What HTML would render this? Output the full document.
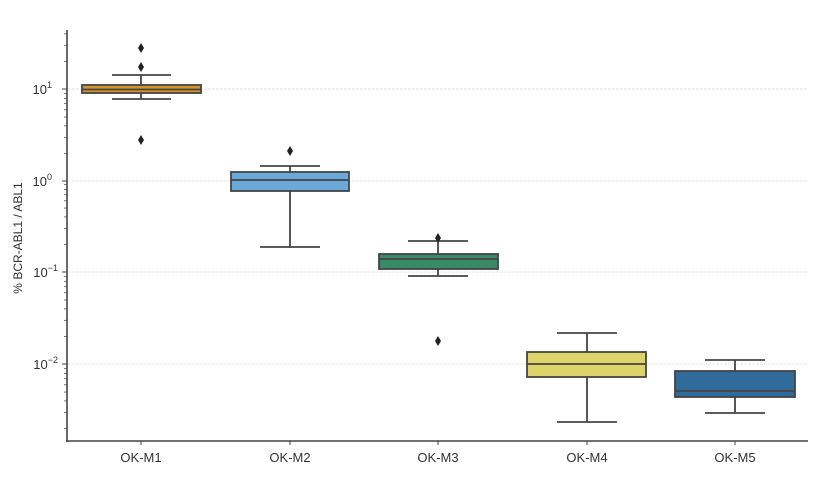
<!DOCTYPE html>
<html><head><style>body{margin:0;background:#fff}svg{display:block}</style></head>
<body>
<svg id="s" width="839" height="481" xmlns="http://www.w3.org/2000/svg" font-family="Liberation Sans, DejaVu Sans, sans-serif">
<rect width="839" height="481" fill="#fff"/>
<g stroke="#e6e6e6" stroke-width="1" stroke-dasharray="3,1">
<line x1="68" x2="808" y1="89" y2="89"/><line x1="68" x2="808" y1="181" y2="181"/>
<line x1="68" x2="808" y1="272" y2="272"/><line x1="68" x2="808" y1="364" y2="364"/>
</g>
<g id="minor" stroke="#555" stroke-width="0.8"></g>
<g stroke="#444" stroke-width="1.8" fill="none">
<!-- M1 -->
<line x1="141" x2="141" y1="75" y2="99"/><line x1="112" x2="171" y1="75" y2="75"/><line x1="112" x2="171" y1="99" y2="99"/>
<rect x="82" y="85" width="119" height="8" fill="#d4952a"/><line x1="82" x2="201" y1="89.5" y2="89.5"/>
<!-- M2 -->
<line x1="290" x2="290" y1="166" y2="247"/><line x1="260" x2="320" y1="166" y2="166"/><line x1="260" x2="320" y1="247" y2="247"/>
<rect x="231" y="172" width="118" height="19" fill="#6aa9d9"/><line x1="231" x2="349" y1="180" y2="180"/>
<!-- M3 -->
<line x1="438" x2="438" y1="241" y2="276"/><line x1="408" x2="468" y1="241" y2="241"/><line x1="408" x2="468" y1="276" y2="276"/>
<rect x="379" y="254" width="119" height="15" fill="#3a8a6a"/><line x1="379" x2="498" y1="259" y2="259"/>
<!-- M4 -->
<line x1="587" x2="587" y1="333" y2="422"/><line x1="557" x2="617" y1="333" y2="333"/><line x1="557" x2="617" y1="422" y2="422"/>
<rect x="527" y="352" width="119" height="25" fill="#ddd36a"/><line x1="527" x2="646" y1="364" y2="364"/>
<!-- M5 -->
<line x1="735" x2="735" y1="360" y2="413"/><line x1="705" x2="765" y1="360" y2="360"/><line x1="705" x2="765" y1="413" y2="413"/>
<rect x="675" y="371" width="120" height="26" fill="#2f6b9b"/><line x1="675" x2="795" y1="391" y2="391"/>
</g>
<g fill="#222">
<path d="M141 43l3 5-3 5-3-5z"/><path d="M141 62l3 5-3 5-3-5z"/><path d="M141 135l3 5-3 5-3-5z"/>
<path d="M290 146l3 5-3 5-3-5z"/><path d="M438 233l3 5-3 5-3-5z"/><path d="M438 336l3 5-3 5-3-5z"/>
</g>
<g stroke="#444" stroke-width="1.6"><line x1="67" x2="67" y1="30" y2="442"/><line x1="66" x2="808" y1="441" y2="441"/></g>
<g stroke="#444" stroke-width="1"><line x1="141" x2="141" y1="441" y2="445"/><line x1="290" x2="290" y1="441" y2="445"/><line x1="438" x2="438" y1="441" y2="445"/><line x1="587" x2="587" y1="441" y2="445"/><line x1="735" x2="735" y1="441" y2="445"/>
<line x1="62" x2="67" y1="89" y2="89"/><line x1="62" x2="67" y1="181" y2="181"/><line x1="62" x2="67" y1="272" y2="272"/><line x1="62" x2="67" y1="364" y2="364"/></g>
<g font-size="13" fill="#333" text-anchor="middle">
<text x="141" y="462">OK-M1</text><text x="290" y="462">OK-M2</text><text x="438" y="462">OK-M3</text><text x="587" y="462">OK-M4</text><text x="735" y="462">OK-M5</text>
</g>
<g font-size="13" fill="#333" text-anchor="end">
<text x="52" y="94">10<tspan font-size="9" dy="-6">1</tspan></text>
<text x="52" y="186">10<tspan font-size="9" dy="-6">0</tspan></text>
<text x="58" y="277">10<tspan font-size="9" dy="-6">−1</tspan></text>
<text x="58" y="369">10<tspan font-size="9" dy="-6">−2</tspan></text>
</g>
<text transform="translate(22,238) rotate(-90)" font-size="12" fill="#333" text-anchor="middle">% BCR-ABL1 / ABL1</text>
</svg>
<script>
var g=document.getElementById('minor'),h='';
[89,181,272,364,456].forEach(function(b){for(var m=2;m<10;m++){var y=b-91.5*Math.log10(m);if(y>30&&y<441)h+='<line x1="64" x2="67" y1="'+y+'" y2="'+y+'"/>';}});
g.innerHTML=h;
</script>
</body></html>
